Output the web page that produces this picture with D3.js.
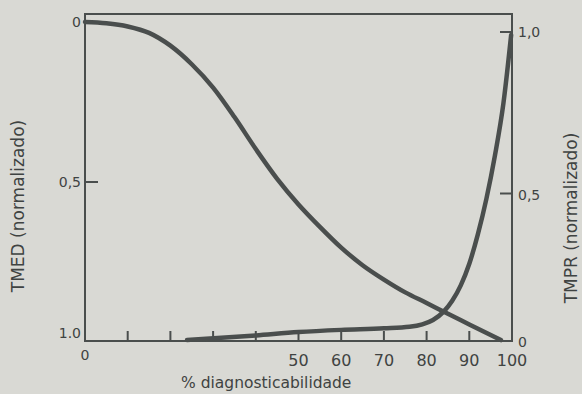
<!DOCTYPE html>
<html>
<head>
<meta charset="utf-8">
<script src="https://cdn.jsdelivr.net/npm/d3@7"></script>
<style>
  html, body { margin: 0; padding: 0; background: #d9d9d4; }
  svg { display: block; }
  text { font-family: "DejaVu Sans", sans-serif; fill: #3f4342; }
</style>
</head>
<body>
<svg id="chart" width="582" height="394"></svg>
<script>
// % diagnosticabilidade on the x axis
const xTicks = [10, 20, 30, 40, 50, 60, 70, 80, 90];
const xLabels = [0, 50, 60, 70, 80, 90, 100];

// TMED (normalizado), left axis, grows downward
const tmedX = [0, 5, 10, 15, 20, 25, 30, 35, 40, 45, 50, 55, 60, 65, 70, 75, 80, 85, 90, 97.4];
const tmedY = [0, 0.004, 0.014, 0.034, 0.074, 0.132, 0.205, 0.297, 0.397, 0.490, 0.570, 0.640, 0.705, 0.760, 0.805, 0.845, 0.878, 0.912, 0.945, 0.994];
const tmedTicks = [0, 0.5, 1.0];
const tmedTickLabels = ["0", "0,5", "1.0"];

// TMPR (normalizado), right axis
const tmprX = [23.9, 40, 50, 60, 70, 76, 79, 81.5, 84, 86, 88, 90, 92, 94, 96, 98, 99.8];
const tmprY = [0.003, 0.018, 0.029, 0.036, 0.041, 0.046, 0.054, 0.068, 0.095, 0.13, 0.18, 0.25, 0.345, 0.46, 0.60, 0.77, 0.99];
const tmprTicks = [0, 0.5, 1.0];
const tmprTickLabels = ["0", "0,5", "1,0"];

const ink = "#4a4e4d";
const svg = d3.select("#chart");

const x = d3.scaleLinear().domain([0, 100]).range([85, 512]);
const yL = d3.scaleLinear().domain([0, 1]).range([22, 342]);
const yR = d3.scaleLinear().domain([0, 1]).range([341, 32]);

const frameTop = 14, frameBottom = 341;

// frame
svg.append("rect")
  .attr("x", x(0)).attr("y", frameTop)
  .attr("width", x(100) - x(0)).attr("height", frameBottom - frameTop)
  .attr("fill", "none").attr("stroke", ink).attr("stroke-width", 2);

// x ticks pointing up from the bottom axis
svg.append("g").selectAll("line").data(xTicks).join("line")
  .attr("x1", d => x(d)).attr("x2", d => x(d))
  .attr("y1", frameBottom).attr("y2", frameBottom - 10)
  .attr("stroke", ink).attr("stroke-width", 2);

svg.append("g").selectAll("text").data(xLabels).join("text")
  .attr("x", d => x(d)).attr("y", d => d === 0 ? 360 : 366)
  .attr("text-anchor", "middle").attr("font-size", d => d === 0 ? 14 : 16)
  .text(d => d);

// left axis tick and labels
svg.append("line")
  .attr("x1", x(0)).attr("x2", x(0) + 13)
  .attr("y1", yL(0.5)).attr("y2", yL(0.5))
  .attr("stroke", ink).attr("stroke-width", 2);

svg.append("g").selectAll("text").data(tmedTicks).join("text")
  .attr("x", 81)
  .attr("y", (d, i) => yL(d) + (i === 2 ? -4 : 5))
  .attr("text-anchor", "end").attr("font-size", 14)
  .text((d, i) => tmedTickLabels[i]);

// right axis ticks and labels
svg.append("g").selectAll("line").data([0.5, 1.0]).join("line")
  .attr("x1", x(100)).attr("x2", x(100) - 12)
  .attr("y1", d => yR(d) + (d === 0.5 ? 7 : 0)).attr("y2", d => yR(d) + (d === 0.5 ? 7 : 0))
  .attr("stroke", ink).attr("stroke-width", 2);

svg.append("g").selectAll("text").data(tmprTicks).join("text")
  .attr("x", 518)
  .attr("y", (d, i) => yR(d) + (i === 1 ? 13 : 5) + (i === 0 ? 1 : 0))
  .attr("text-anchor", "start").attr("font-size", 14)
  .text((d, i) => tmprTickLabels[i]);

// curves
const tmedLine = d3.line()
  .x(d => x(d[0])).y(d => yL(d[1]))
  .curve(d3.curveMonotoneX);
const tmprLine = d3.line()
  .x(d => x(d[0])).y(d => yR(d[1]))
  .curve(d3.curveMonotoneX);

svg.append("path")
  .attr("d", tmedLine(d3.zip(tmedX, tmedY)))
  .attr("fill", "none").attr("stroke", ink).attr("stroke-width", 4.5)
  .attr("stroke-linecap", "round");

svg.append("path")
  .attr("d", tmprLine(d3.zip(tmprX, tmprY)))
  .attr("fill", "none").attr("stroke", ink).attr("stroke-width", 4.5)
  .attr("stroke-linecap", "round");

// axis titles
svg.append("text")
  .attr("x", 181).attr("y", 388)
  .attr("font-size", 15.5)
  .text("% diagnosticabilidade");

svg.append("text")
  .attr("transform", "translate(24,206) rotate(-90)")
  .attr("text-anchor", "middle").attr("font-size", 17)
  .text("TMED (normalizado)");

svg.append("text")
  .attr("transform", "translate(577,218) rotate(-90)")
  .attr("text-anchor", "middle").attr("font-size", 17)
  .text("TMPR (normalizado)");
</script>
</body>
</html>
